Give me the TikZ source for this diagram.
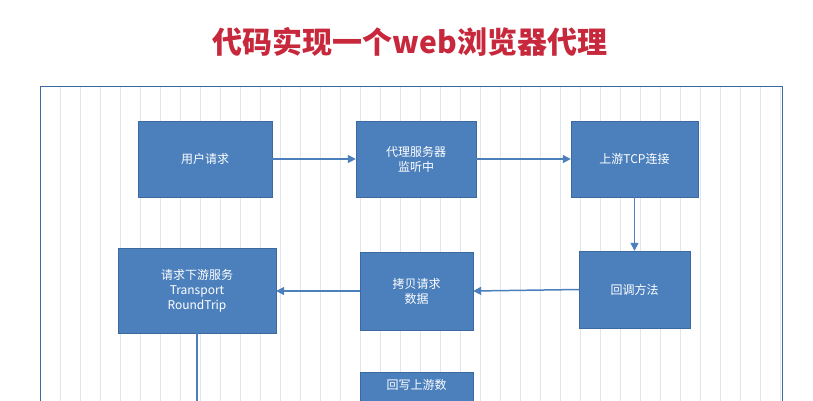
\documentclass[tikz,border=0pt]{standalone}
\usepackage{fontspec}
\setmainfont{Noto Sans CJK SC}
\usetikzlibrary{arrows.meta}
\definecolor{boxblue}{RGB}{76,128,189}
\definecolor{boxedge}{RGB}{60,105,160}
\definecolor{titlered}{RGB}{200,40,60}
\definecolor{gridc}{RGB}{225,230,238}
\tikzset{
  pbox/.style={draw=boxedge, fill=boxblue, text=white, font=\fontsize{12}{15}\selectfont, align=center, inner sep=0pt},
  arr/.style={draw=boxblue, line width=1.5pt, -{Triangle[length=8pt,width=8pt]}}
}
\begin{document}
\begin{tikzpicture}[x=1pt,y=-1pt]
\useasboundingbox (0,0) rectangle (813,400);
\clip (0,0) rectangle (813,400);
\fill[white] (0,0) rectangle (813,400);
\node[text=titlered, font=\fontsize{30}{36}\selectfont\bfseries] (title) at (410,42) {代码实现一个web浏览器代理};
\begin{scope}
\clip (40,86) rectangle (782,410);
\draw[gridc, line width=0.5pt, step=20] (40,86) grid (782,410);
\end{scope}
\draw[boxedge, line width=1pt] (40,410) -- (40,86) -- (782,86) -- (782,410);
\node[pbox, minimum width=134, minimum height=76] (a) at (205,159) {用户请求};
\node[pbox, minimum width=120, minimum height=76] (b) at (416,159) {代理服务器\\监听中};
\node[pbox, minimum width=127, minimum height=76] (c) at (634.5,159) {上游TCP连接};
\node[pbox, minimum width=111, minimum height=77] (d) at (634.5,289.5) {回调方法};
\node[pbox, minimum width=113, minimum height=78] (e) at (416.5,291) {拷贝请求\\数据};
\node[pbox, minimum width=158, minimum height=85] (f) at (197,290.5) {请求下游服务\\Transport\\RoundTrip};
\node[pbox, minimum width=113, minimum height=60, anchor=north, text depth=0pt] (g) at (416.5,372) {};
\node[text=white, font=\fontsize{12}{15}\selectfont, anchor=north] (gt) at (416.5,376) {回写上游数};
\coordinate (fend) at (197,402);
\draw[arr] (a) -- (b);
\draw[arr] (b) -- (c);
\draw[arr] (c) -- (d);
\draw[arr] (d.west) -- (e.east);
\draw[arr] (e.west) -- (f.east |- e.west);
\draw[boxblue, line width=1.5pt] (f.south) -- (fend);
\end{tikzpicture}
\end{document}
